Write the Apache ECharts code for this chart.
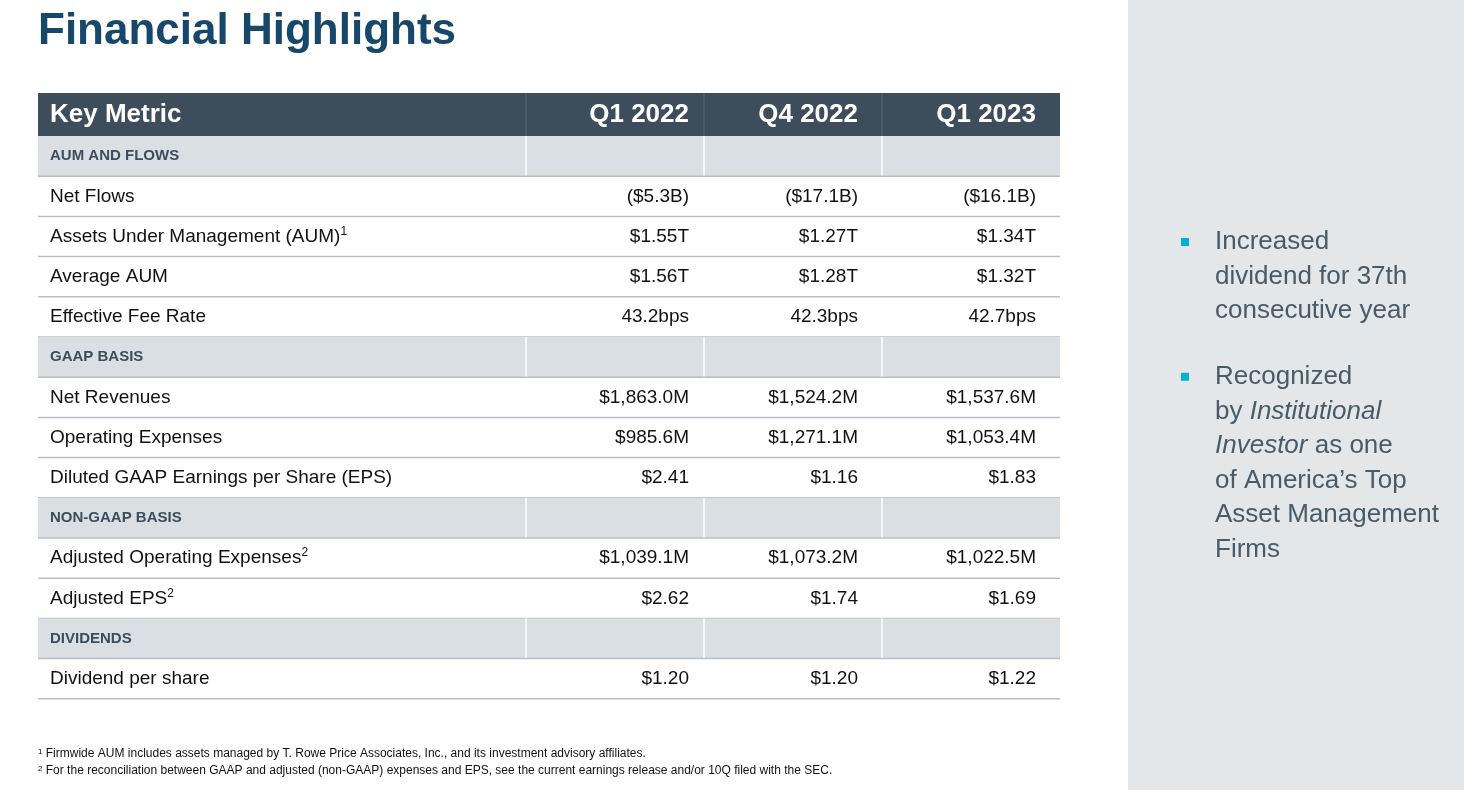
<!DOCTYPE html>
<html>
<head>
<meta charset="utf-8">
<script src="https://cdn.jsdelivr.net/npm/echarts@6/dist/echarts.min.js"></script>
<style>html,body{margin:0;padding:0;background:#fff}#main{width:1464px;height:790px}</style>
</head>
<body>
<div id="main"></div>
<script>
// 表格数据
var columns = ['Key Metric', 'Q1 2022', 'Q4 2022', 'Q1 2023'];
var sections = ['AUM AND FLOWS', 'GAAP BASIS', 'NON-GAAP BASIS', 'DIVIDENDS'];
var metrics = [
  ['Net Flows', 'Assets Under Management (AUM)', 'Average AUM', 'Effective Fee Rate'],
  ['Net Revenues', 'Operating Expenses', 'Diluted GAAP Earnings per Share (EPS)'],
  ['Adjusted Operating Expenses', 'Adjusted EPS'],
  ['Dividend per share']
];
var footMarks = {'Assets Under Management (AUM)': '1', 'Adjusted Operating Expenses': '2', 'Adjusted EPS': '2'};
var q1_2022 = ['($5.3B)', '$1.55T', '$1.56T', '43.2bps', '$1,863.0M', '$985.6M', '$2.41', '$1,039.1M', '$2.62', '$1.20'];
var q4_2022 = ['($17.1B)', '$1.27T', '$1.28T', '42.3bps', '$1,524.2M', '$1,271.1M', '$1.16', '$1,073.2M', '$1.74', '$1.20'];
var q1_2023 = ['($16.1B)', '$1.34T', '$1.32T', '42.7bps', '$1,537.6M', '$1,053.4M', '$1.83', '$1,022.5M', '$1.69', '$1.22'];
var bullets = [
  [['Increased'], ['dividend for 37th'], ['consecutive year']],
  [['Recognized'], ['by ', 'Institutional'], ['Investor', ' as one'], ['of America\u2019s Top'], ['Asset Management'], ['Firms']]
];

var F = '"Liberation Sans", Arial, sans-serif';
var colX = [38, 526, 704, 882, 1060];
var valRight = [0, 689, 858, 1036];
var g = [];

// 标题
g.push({type: 'text', left: 38, top: 10, style: {text: 'Financial Highlights', font: 'bold 44px ' + F, fill: '#17476a'}});
// 右侧灰色面板
g.push({type: 'rect', shape: {x: 1128, y: 0, width: 336, height: 790}, style: {fill: '#e3e7ea'}});

// 表头
g.push({type: 'rect', shape: {x: 38, y: 93, width: 1022, height: 43}, style: {fill: '#3d4d5c'}});
for (var c = 1; c < 4; c++) {
  g.push({type: 'line', shape: {x1: colX[c], y1: 93, x2: colX[c], y2: 136}, style: {stroke: '#5a6a78', lineWidth: 1}});
}
columns.forEach(function (t, i) {
  g.push({type: 'text', x: i === 0 ? 50 : valRight[i], y: 115,
    style: {text: t, font: 'bold 26px ' + F, fill: '#fff', align: i === 0 ? 'left' : 'right', verticalAlign: 'middle'}});
});

var y = 136, rh = 40.2, k = 0;
sections.forEach(function (s, si) {
  g.push({type: 'rect', shape: {x: 38, y: y, width: 1022, height: rh}, style: {fill: '#d9dfe3'}});
  for (var c = 1; c < 4; c++) {
    g.push({type: 'line', shape: {x1: colX[c], y1: y, x2: colX[c], y2: y + rh}, style: {stroke: '#fff', lineWidth: 1.5}});
  }
  g.push({type: 'text', x: 50, y: y + rh / 2, style: {text: s, font: 'bold 15px ' + F, fill: '#3d4d5c', verticalAlign: 'middle'}});
  g.push({type: 'line', shape: {x1: 38, y1: y + rh, x2: 1060, y2: y + rh}, style: {stroke: '#b8c0c6', lineWidth: 1.5}});
  y += rh;
  metrics[si].forEach(function (m) {
    var mk = footMarks[m];
    g.push({type: 'text', x: 50, y: y + rh / 2, style: {
      text: m + (mk ? '{sup|' + mk + '}' : ''), font: '19px ' + F, fill: '#111', verticalAlign: 'middle',
      rich: {sup: {fontSize: 12, fontFamily: F, verticalAlign: 'top', padding: [0, 0, 10, 0], fill: '#111'}}}});
    [q1_2022, q4_2022, q1_2023].forEach(function (arr, ci) {
      g.push({type: 'text', x: valRight[ci + 1], y: y + rh / 2, style: {text: arr[k], font: '19px ' + F, fill: '#111', align: 'right', verticalAlign: 'middle'}});
    });
    g.push({type: 'line', shape: {x1: 38, y1: y + rh, x2: 1060, y2: y + rh}, style: {stroke: '#b8c0c6', lineWidth: 1.5}});
    y += rh; k++;
  });
});

// 右侧要点
var by = 242;
bullets.forEach(function (b, bi) {
  g.push({type: 'rect', shape: {x: 1181, y: by - 4, width: 8, height: 8}, style: {fill: '#00b3cc'}});
  b.forEach(function (line) {
    var txt = line.length === 1 ? line[0] : (line[0] === 'by ' ? 'by {i|' + line[1] + '}' : '{i|' + line[0] + '}' + line[1]);
    g.push({type: 'text', x: 1215, y: by, style: {text: txt, font: '26px ' + F, fill: '#4a5a66', verticalAlign: 'middle',
      rich: {i: {fontStyle: 'italic', fontSize: 26, fontFamily: F, fill: '#4a5a66'}}}});
    by += 34.6;
  });
  by += 31;
});

// 脚注
g.push({type: 'text', x: 38, y: 754, style: {text: '{s|1} Firmwide AUM includes assets managed by T. Rowe Price Associates, Inc., and its investment advisory affiliates.', font: '12px ' + F, fill: '#111', verticalAlign: 'middle', rich: {s: {fontSize: 8, verticalAlign: 'top', fill: '#111'}}}});
g.push({type: 'text', x: 38, y: 771, style: {text: '{s|2} For the reconciliation between GAAP and adjusted (non-GAAP) expenses and EPS, see the current earnings release and/or 10Q filed with the SEC.', font: '12px ' + F, fill: '#111', verticalAlign: 'middle', rich: {s: {fontSize: 8, verticalAlign: 'top', fill: '#111'}}}});

var chart = echarts.init(document.getElementById('main'));
chart.setOption({animation: false, graphic: {elements: g}});
</script>
</body>
</html>
